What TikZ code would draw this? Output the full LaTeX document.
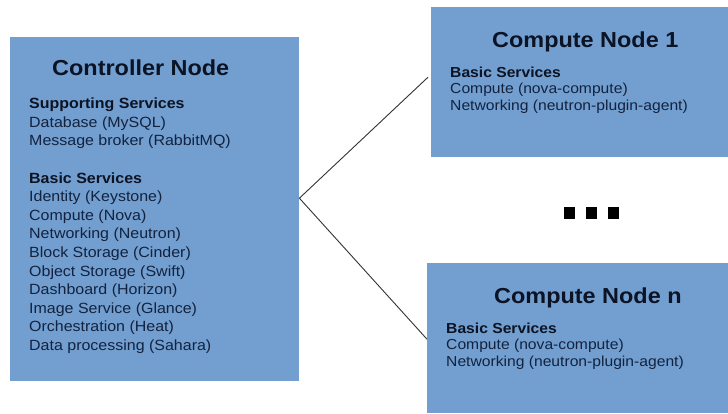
\documentclass[tikz,border=0pt]{standalone}
\usepackage{fontspec}
\setmainfont{Liberation Sans}[FakeStretch=1.08]
\definecolor{boxblue}{HTML}{729FCF}
\definecolor{bodytxt}{HTML}{13223F}
\definecolor{headtxt}{HTML}{0C1324}
\definecolor{wire}{HTML}{333333}
\tikzset{
  box/.style={draw=none, fill=boxblue, rectangle, inner sep=0pt, anchor=north west},
  title/.style={anchor=base west, inner sep=0pt, text=headtxt, font=\fontsize{21.7}{24}\selectfont\bfseries},
  head/.style={anchor=base west, inner sep=0pt, text=headtxt, font=\fontsize{14.8}{17}\selectfont\bfseries},
  body/.style={anchor=base west, inner sep=0pt, text=bodytxt, font=\fontsize{14.8}{17}\selectfont},
  chead/.style={head, font=\fontsize{14.5}{17}\selectfont\bfseries},
  cbody/.style={body, font=\fontsize{14.5}{17}\selectfont},
  wireline/.style={draw=wire, line width=0.9pt},
  dot/.style={fill=black, draw=none, rectangle, minimum width=10.5pt, minimum height=12pt, inner sep=0pt}
}
\begin{document}
\begin{tikzpicture}[x=1pt, y=-1pt]
\useasboundingbox (0,0) rectangle (728,413);
\fill[white] (0,0) rectangle (728,413);
% boxes
\node[box, minimum width=289pt, minimum height=344pt] (ctrl) at (10,37) {};
\node[box, minimum width=297pt, minimum height=150pt] (c1) at (431,7) {};
\node[box, minimum width=301pt, minimum height=150pt] (cn) at (427,263) {};
% connectors
\coordinate (hub) at ([yshift=11pt]ctrl.east);
\coordinate (c1in) at ([xshift=-3pt,yshift=5pt]c1.west);
\coordinate (cnin) at ([yshift=-1pt]cn.west);
\draw[wireline] (c1in) -- (hub) -- (cnin);
% controller text
\node[title] (ctitle) at (52,75.5) {Controller Node};
\node[head] (csup) at (29,108.5) {Supporting Services};
\node[body] (cdb) at (29,127.1) {Database (MySQL)};
\node[body] (cmq) at (29,145.7) {Message broker (RabbitMQ)};
\node[head] (cbasic) at (29,183) {Basic Services};
\foreach \t [count=\i] in {{Identity (Keystone)},{Compute (Nova)},{Networking (Neutron)},{Block Storage (Cinder)},{Object Storage (Swift)},{Dashboard (Horizon)},{Image Service (Glance)},{Orchestration (Heat)},{Data processing (Sahara)}}
  \node[body] (cs\i) at (29,{183+\i*18.6}) {\t};
% compute node 1
\node[title] (t1) at (492,47) {Compute Node 1};
\node[chead] (b1) at (450,77) {Basic Services};
\node[cbody] (s11) at (450,93.5) {Compute (nova-compute)};
\node[cbody] (s12) at (450,110) {Networking (neutron-plugin-agent)};
% compute node n
\node[title] (tn) at (494,303) {Compute Node n};
\node[chead] (bn) at (446,333) {Basic Services};
\node[cbody] (sn1) at (446,349.5) {Compute (nova-compute)};
\node[cbody] (sn2) at (446,366) {Networking (neutron-plugin-agent)};
% ellipsis squares
\node[dot] (d1) at (569.5,213) {};
\node[dot] (d2) at (591.5,213) {};
\node[dot] (d3) at (613.5,213) {};
\end{tikzpicture}
\end{document}
